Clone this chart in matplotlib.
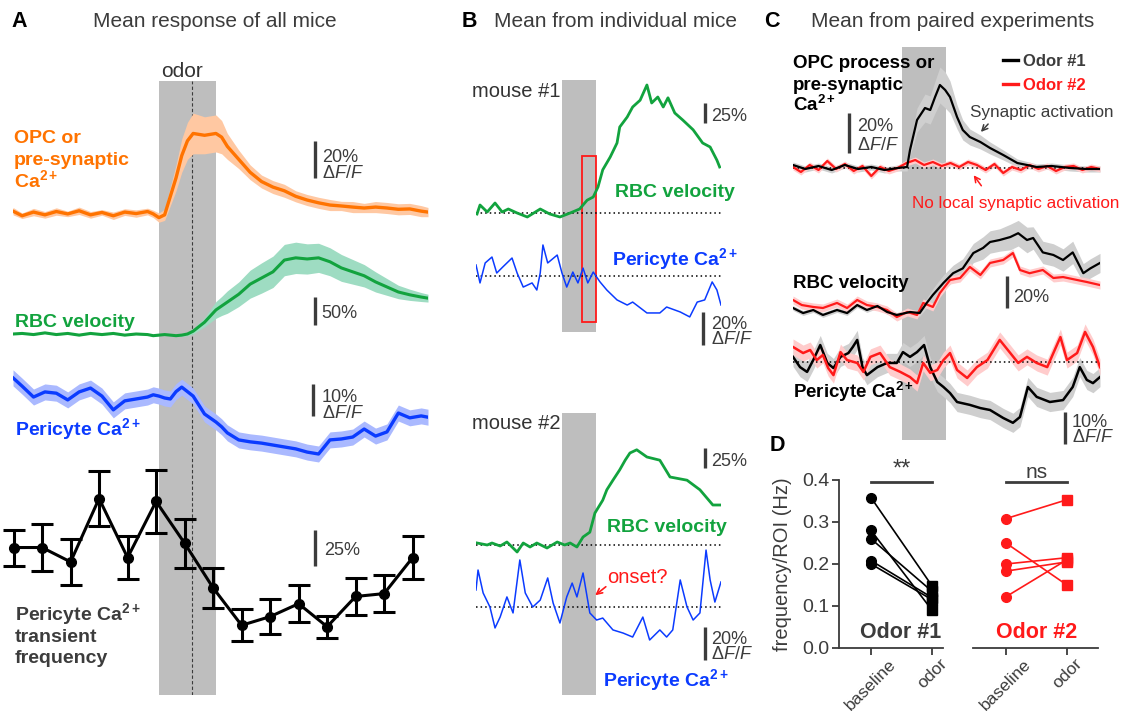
import matplotlib
matplotlib.use('Agg')
import matplotlib.pyplot as plt
from matplotlib.patches import Rectangle
from matplotlib.lines import Line2D
import numpy as np

plt.rcParams['font.family'] = ['Liberation Sans', 'DejaVu Sans']
plt.rcParams['mathtext.fontset'] = 'custom'
plt.rcParams['mathtext.rm'] = 'Liberation Sans'
plt.rcParams['mathtext.it'] = 'Liberation Sans:italic'
plt.rcParams['mathtext.bf'] = 'Liberation Sans:bold'

W, H = 1124, 711

ORANGE = '#ff7300'
ORANGE_BAND = '#ffc8a2'
GREEN = '#12a33e'
GREEN_BAND = '#9edcc2'
BLUE = '#0b3bff'
BLUE_BAND = '#aab9ff'
RED = '#ff1a1a'
RED_BAND = '#ffcccc'
GRAY_BAND = '#cfcfcf'
BOX = '#bebebe'
DARK = '#3c3c3c'

# ---------------- panel A: mean of all mice (time in s, odor 0-5 s) ----------------
t_a = [-12.8, -12, -11, -10, -9, -8, -7, -6, -5, -4, -3, -2, -1, -0.5,
       0, 0.5, 1, 1.5, 2, 2.5, 3, 4, 5, 5.5,
       6, 7, 8, 9, 10, 11, 12, 13, 14, 15, 16, 17, 18, 19, 20, 21, 22, 23, 23.6]
opc_a = [1.0, -1.5, 0.5, -1.0, 0.8, -0.5, 1.2, -1.0, 0.3, -1.5, 0.5, -0.3, 0.8, -0.5,
         -2.5, -1.0, 9, 19, 31, 39, 43, 42, 43, 41,
         36, 29, 22, 17, 14, 12, 9, 7, 5.5, 4.3, 3.8, 3.2, 2.7, 3.2, 2.7, 2.0, 2.2, 1.0, 0.5]
opc_sem_a = [2, 1.5, 2, 1.8, 2, 1.5, 2, 1.8, 1.5, 2, 1.8, 2, 1.8, 2,
             2.5, 3, 5, 7, 9, 10, 11, 10, 10, 9,
             7, 5, 4, 3.5, 3.5, 3.5, 3, 3, 3, 3, 2.5, 3, 2.5, 3, 3, 3, 3, 3, 2.5]
vel_a = [0, 1, -1, 2, -1, 1, -2, 1, -1, 1, -2, 0, -1, -3,
         -2, -1, -2, -3, -2, 0, 5, 21, 43, 50,
         57, 71, 89, 100, 111, 132, 136, 134, 136, 129, 118, 111, 104, 93, 84, 75, 70, 66, 64]
vel_sem_a = [1, 1, 1, 1, 1, 1, 1, 1, 1, 1, 1, 1, 1, 1,
             1, 1, 1, 1.5, 2, 3, 5, 8, 15, 17,
             20, 22, 25, 27, 28, 28, 28, 27, 26, 25, 24, 22, 20, 18, 15, 12, 10, 8, 7]
peri_a = [3.8, 1.2, -2.2, -0.6, -1.0, -3.1, -0.6, 0.6, -1.9, -6.2, -3.4, -2.8, -2.2, -1.5,
          -1.9, -2.5, -2.8, -0.5, 0.9, -0.5, -1.9, -7.5, -10, -11.5,
          -13.4, -15.6, -16.2, -16.6, -17.2, -17.8, -18.4, -19.4, -20, -15.6, -15.3, -14.7,
          -12.2, -14.4, -13.1, -7.2, -8.7, -8.1, -8.5]
peri_sem_a = 2.5
freq_t = [-12.75, -10.25, -7.75, -5.25, -2.75, -0.25, 2.25, 4.75, 7.25, 9.75,
          12.25, 14.75, 17.25, 19.75, 22.25]
freq_a = [92, 92, 82, 126, 85, 124, 95, 64, 38, 44, 53, 37, 58, 60, 85]
freq_err_a = [12.5, 16.4, 16, 19, 15, 22, 17, 14, 11, 12, 13, 7.5, 12.7, 13, 15]

# ---------------- panel B: individual mice ----------------
b1_vel_t = [-12.5, -12.06, -11.0, -9.85, -8.8, -7.9, -6.6, -5.1, -3.2, -1.8,
            -0.3, 1.2, 2.6, 3.7, 4.6, 5.3, 6.0, 7.1, 8.1, 8.5,
            9.6, 10.4, 11.5, 12.5, 13.2, 14.1, 14.9, 15.6, 16.6, 17.8,
            19.3, 20.7, 21.8, 22.8, 23.2]
b1_vel = [-1.25, 10, 1.25, 12.5, 1.25, 5, 0, -5, 5, -1.25,
          -5, 0, 5, 16, 20, 32.5, 54, 70, 87.5, 107.5,
          120, 132.5, 141, 160, 137.5, 145, 132.5, 144, 125, 116,
          104, 87.5, 82.5, 66, 57.5]
b1_ca_t = [-12.65, -12.06, -11.3, -10.3, -9.6, -8.7, -7.35, -6.6, -5.7, -4.4,
           -3.7, -3.2, -2.8, -2.1, -0.7, 0.0, 0.7, 1.6, 2.35, 3.1,
           3.8, 4.6, 5.6, 6.6, 8.1, 9.6, 10.4, 12.5, 14.4, 15.4,
           17.4, 18.8, 19.9, 21.0, 22.1, 22.8, 23.4]
b1_ca = [6.7, -4.2, 7.9, 11.5, 1.8, 5.5, 10.9, 1.8, -6.7, -4.2,
         -8.5, 1.8, 18.8, 7.9, 12.7, 1.8, -6.7, 2.4, -4.2, 4.8,
         -4.2, 2.4, -3.6, -8.5, -14.5, -17.6, -15.8, -22.4, -22.4, -18.8,
         -21.8, -24.8, -15.8, -14.5, -3.6, -8.5, -17.6]
b2_vel_t = [-12.5, -11.0, -10.3, -9.1, -8.1, -6.6, -5.7, -4.7, -3.7, -2.2,
            -0.7, 0.4, 1.2, 2.2, 3.1, 4.1, 4.85, 6.0, 6.6, 7.5,
            8.5, 9.3, 10.0, 11.0, 12.5, 14.4, 15.9, 18.4, 20.3, 22.2, 23.2]
b2_vel = [2.5, 0, 2.5, -1.25, 3.75, -8.75, 2.5, -2.5, 2.5, -3.75,
          3.75, 0, 2.5, -2.5, 10, 16, 40, 56, 69, 81,
          94, 106, 115, 119, 110, 106, 85, 81, 69, 50, 50]
b2_ca_t = [-12.65, -12.35, -11.6, -10.6, -9.85, -9.1, -8.1, -7.2, -6.2, -5.4,
           -4.3, -3.2, -2.1, -1.3, -0.3, 0.7, 1.5, 2.2, 3.1, 4.1,
           5.1, 6.0, 7.5, 9.0, 10.4, 11.9, 12.9, 14.4, 15.4, 16.3,
           17.4, 18.4, 19.3, 20.3, 21.2, 21.8, 22.5, 23.4]
b2_ca = [10.3, 22.4, 8.5, 0, -12.7, -6.1, 6.1, -3.6, 28.5, 8.5,
         0, 4.2, 17.6, 2.4, -9.7, 6.1, 14.5, 6.1, 20.6, -3.6,
         -7.9, -6.7, -13.9, -15.8, -18.2, -6.1, -20, -13.9, -18.2, -13.9,
         16.4, 0, -7.9, -3.6, 34.5, 16.4, 3, 15.2]

# ---------------- panel C: paired experiments (odor #1 black, odor #2 red) ----------------
c_opc1_t = [-12.4, -11, -9.5, -8, -6.5, -5, -3.5, -2, -0.5,
            0.57, 0.9, 1.7, 2.6, 3.2, 3.75, 4.3, 4.9, 5.45, 6.25, 6.9,
            7.7, 8.9, 10, 11.5, 13.1, 15.3, 17, 19.1, 21, 22.5]
c_opc1 = [1.5, -0.5, 1, -1, 1.5, -0.5, 0.5, -1, 0,
          0.5, 9, 24, 30, 29, 35.5, 41.5, 39, 35.5, 25.5, 19,
          15.5, 13, 10, 6.5, 2.5, 0.5, 1, 0, -0.5, -0.5]
c_opc1_sem = [1.5, 1.5, 1.5, 1.5, 1.5, 1.5, 1.5, 1.5, 1.5,
              2, 3, 6, 7, 7, 8, 9, 9, 8, 6, 5,
              4, 3.5, 3, 2.5, 2, 1.5, 1.5, 1.5, 1.5, 1.5]
c_opc2_t = [-12.4, -11.5, -10.5, -9.5, -8.5, -7.5, -6.5, -5.5, -4.5, -3.5,
            -2.5, -1.5, -0.5, 0.5, 1.5, 2.5, 3.5, 4.5, 5.5, 6.5,
            7.5, 8.5, 9.5, 10.5, 11.5, 12.5, 13.5, 14.5, 15.5, 16.5,
            17.5, 18.5, 19.5, 20.5, 21.5, 22.5]
c_opc2 = [0.5, -2, 1.5, -1, 3.5, -0.5, 2, -1.5, 1, -4,
          0.5, -1.5, 0, 2.5, 4, 1.5, 3, 1, 2.5, 0.5,
          3, 1.5, -1, 2, -2.5, 0.5, -1, 1.5, -0.5, 1,
          -1.5, 0.5, 1, -1, 0.5, -0.5]
c_opc2_sem = 1.5
c_vel1_t = [-12.4, -11.25, -10.1, -9.0, -7.4, -6.25, -5.1, -4.0, -2.8, -1.7,
            -0.6, 0.9, 2.0, 2.8, 3.5, 4.7, 5.8, 6.9, 8.1, 9.2,
            10.0, 11.1, 12.3, 13.2, 14.2, 14.9, 16.0, 17.2, 18.3, 19.4,
            20.6, 21.4, 22.5]
c_vel1 = [1.25, -1.9, 0, -3.1, 0, -1.9, 3.1, 0, 2.5, -1.25,
          -3.1, -1.25, -1.9, 4.4, 9.4, 16.9, 23, 26, 35.6, 38.75,
          42.5, 43.75, 45.6, 48, 43.75, 45, 36, 34.4, 31.25, 36,
          23, 26, 29.4]
c_vel1_sem = [1.5, 1.5, 1.5, 1.5, 1.5, 1.5, 1.5, 1.5, 1.5, 1.5,
              1.5, 1.5, 2, 3, 4, 5, 5, 6, 6, 7,
              7, 7, 8, 8, 8, 7, 7, 7, 7, 7,
              6, 6, 6]
c_vel2_t = [-12.4, -11.4, -10.1, -9.0, -7.4, -6.25, -5.1, -4.0, -2.8, -1.7,
            -0.6, 0.6, 1.7, 2.4, 3.5, 4.3, 5.45, 6.6, 7.7, 8.9,
            10.0, 11.5, 12.6, 13.4, 14.5, 16.0, 17.2, 18.3, 19.9, 21.0, 22.5]
c_vel2 = [6.25, 3.1, 1.9, 1.25, 4.4, 1.25, 6.25, 3.1, 1.9, 0,
          -4.4, -1.25, -3.1, 4.4, 1.9, 10.6, 18.75, 20, 26.9, 21.9,
          29.4, 31.25, 35.6, 25, 23, 25, 20, 20.6, 18.75, 17.5, 15.6]
c_vel2_sem = 2.5
c_ca1_t = [-12.4, -11.6, -10.8, -10.1, -9.3, -8.5, -7.8, -7.0, -6.1, -5.6,
           -5.1, -4.5, -4.0, -2.8, -1.7, -0.6, 0.1, 0.9, 1.7, 2.5,
           3.2, 4.0, 4.7, 5.45, 6.25, 7.7, 8.9, 10.0, 11.5, 12.6,
           13.4, 14.3, 15.3, 16.8, 18.3, 19.4, 20.2, 21.0, 21.7, 22.5]
c_ca1 = [1.6, -1.6, -3.1, 0.6, 5.3, -0.3, -1.9, 1.6, 2.8, 4.7,
         6.9, -1.6, -4.1, -1.6, -0.3, -0.3, 3.1, 1.6, 3.1, 5.3,
         -1.6, -6.25, -7.8, -9.7, -12.5, -13.4, -14.4, -15, -17.5, -19,
         -17.2, -7.8, -10.9, -12.5, -11.9, -7.8, -1.6, -5.6, -6.6, -4.7]
c_ca1_sem = 3.0
c_ca2_t = [-12.4, -11.25, -10.45, -9.7, -9.0, -8.4, -7.8, -7.0, -6.25, -5.1,
           -4.4, -3.6, -2.5, -1.4, -0.2, 0.9, 1.7, 2.4, 3.2, 4.0,
           4.7, 5.45, 6.25, 7.4, 8.5, 9.7, 11.1, 12.3, 13.2, 14.2,
           15.3, 16.5, 17.2, 18.0, 18.75, 19.9, 20.8, 21.7, 22.5]
c_ca2 = [4.7, 2.8, 3.75, 0.6, 2.2, -1.9, -4.1, 3.1, 0.6, -0.3,
         -3.1, 1.6, 2.8, -1.6, -3.1, -4.7, -6.6, -0.3, -3.4, -2.5,
         0.6, 2.8, -2.5, -5, -1.6, 0.6, 6.9, 2.8, -0.3, 1.6,
         -0.3, -1.6, 2.8, 7.8, 0.6, 2.8, 9.4, 4.7, -1.6]
c_ca2_sem = 2.5

# ---------------- panel D: transient frequency per ROI (Hz) ----------------
d_labels = ['baseline', 'odor']
d_base_1 = [0.358, 0.280, 0.260, 0.208, 0.200]
d_odor_1 = [0.148, 0.090, 0.135, 0.120, 0.115]
d_base_2 = [0.308, 0.250, 0.200, 0.183, 0.122]
d_odor_2 = [0.353, 0.150, 0.215, 0.205, 0.210]

ODOR_ON, ODOR_OFF = 0, 5

fig = plt.figure(figsize=(W / 100, H / 100), dpi=100)


def px_axes(x0, x1, y0, y1):
    ax = fig.add_axes([x0 / W, 1 - y1 / H, (x1 - x0) / W, (y1 - y0) / H])
    ax.set_facecolor('none')
    ax.axis('off')
    return ax


def box_axes(xpx, tlim, ypx):
    ax = px_axes(xpx[0], xpx[1], ypx[0], ypx[1])
    ax.set_xlim(*tlim)
    ax.set_ylim(0, 1)
    ax.axvspan(ODOR_ON, ODOR_OFF, color=BOX, lw=0)
    return ax


def trace_axes(xpx, tlim, ref_px, ppu, ref_val=0.0):
    # y axis in data units, ref_val sits at pixel row ref_px, ppu = pixels per unit
    ax = px_axes(xpx[0], xpx[1], 0, H)
    ax.set_xlim(*tlim)
    ax.set_ylim(ref_val - (H - ref_px) / ppu, ref_val + ref_px / ppu)
    return ax


def band(ax, t, y, sem, color):
    y = np.asarray(y, float)
    sem = np.asarray(sem, float) * np.ones_like(y)
    ax.fill_between(t, y - sem, y + sem, color=color, lw=0)


def scale_bar(ax, t, y0, length):
    ax.plot([t, t], [y0, y0 + length], color=DARK, lw=2.4, solid_capstyle='butt')


def baseline_dots(ax):
    ax.axhline(0, color='k', lw=1.1, ls=(0, (1, 2)))


# ---- A ----
XA, TA = (13, 428), (-12.8, 23.6)
axA = box_axes(XA, TA, (81, 695))
axA.axvline(2.9, color=DARK, lw=0.8, ls=(0, (3, 2)))

a_opc = trace_axes(XA, TA, 213, 1.85)
band(a_opc, t_a, opc_a, opc_sem_a, ORANGE_BAND)
a_opc.plot(t_a, opc_a, color=ORANGE, lw=2.4)
scale_bar(a_opc, 13.7, 19, 20)

a_vel = trace_axes(XA, TA, 334, 0.56)
band(a_vel, t_a, vel_a, vel_sem_a, GREEN_BAND)
a_vel.plot(t_a, vel_a, color=GREEN, lw=2.2)
scale_bar(a_vel, 13.7, 16, 50)

a_ca = trace_axes(XA, TA, 390, 3.2)
band(a_ca, t_a, peri_a, peri_sem_a, BLUE_BAND)
a_ca.plot(t_a, peri_a, color=BLUE, lw=2.4)
scale_bar(a_ca, 13.5, -8, 10)

a_fr = trace_axes(XA, TA, 536, 1.44, ref_val=100)
a_fr.errorbar(freq_t, freq_a, yerr=freq_err_a, color='k', lw=2.2, marker='o', ms=7,
              capsize=8, capthick=2.2, elinewidth=2.2, clip_on=False)
scale_bar(a_fr, 13.7, 79, 25)

# ---- B ----
XB, TB = (476, 721), (-12.65, 23.4)
axB1 = box_axes(XB, TB, (80, 332))
axB1.add_patch(Rectangle((2.95, 0.04), 2.05, 0.66, fill=False, ec=RED, lw=1.3))
axB2 = box_axes(XB, TB, (413, 695))

b1v = trace_axes(XB, TB, 213, 0.8)
baseline_dots(b1v)
b1v.plot(b1_vel_t, b1_vel, color=GREEN, lw=2.0)
scale_bar(b1v, 21.05, 112.5, 25)

b1c = trace_axes(XB, TB, 276, 1.65)
baseline_dots(b1c)
b1c.plot(b1_ca_t, b1_ca, color=BLUE, lw=1.1)
scale_bar(b1c, 20.75, -42, 20)

b2v = trace_axes(XB, TB, 545, 0.8)
baseline_dots(b2v)
b2v.plot(b2_vel_t, b2_vel, color=GREEN, lw=2.0)
scale_bar(b2v, 21.05, 96, 25)

b2c = trace_axes(XB, TB, 607, 1.65)
baseline_dots(b2c)
b2c.plot(b2_ca_t, b2_ca, color=BLUE, lw=1.1)
scale_bar(b2c, 21.05, -32, 20)

# ---- C ----
XC, TC = (793, 1100), (-12.4, 22.5)
axC = box_axes(XC, TC, (47, 440))

c_opc = trace_axes(XC, TC, 168, 2.0)
baseline_dots(c_opc)
band(c_opc, c_opc1_t, c_opc1, c_opc1_sem, GRAY_BAND)
band(c_opc, c_opc2_t, c_opc2, c_opc2_sem, RED_BAND)
c_opc.plot(c_opc2_t, c_opc2, color=RED, lw=1.6)
c_opc.plot(c_opc1_t, c_opc1, color='k', lw=1.6)
scale_bar(c_opc, -6.0, 7.5, 20)

c_vel = trace_axes(XC, TC, 310, 1.6)
band(c_vel, c_vel1_t, c_vel1, c_vel1_sem, GRAY_BAND)
band(c_vel, c_vel2_t, c_vel2, c_vel2_sem, RED_BAND)
c_vel.plot(c_vel2_t, c_vel2, color=RED, lw=1.6)
c_vel.plot(c_vel1_t, c_vel1, color='k', lw=1.6)
scale_bar(c_vel, 11.9, 1.25, 20)

c_ca = trace_axes(XC, TC, 362, 3.2)
baseline_dots(c_ca)
band(c_ca, c_ca1_t, c_ca1, c_ca1_sem, GRAY_BAND)
band(c_ca, c_ca2_t, c_ca2, c_ca2_sem, RED_BAND)
c_ca.plot(c_ca1_t, c_ca1, color='k', lw=1.8)
c_ca.plot(c_ca2_t, c_ca2, color=RED, lw=1.8)
scale_bar(c_ca, 18.5, -25.6, 10)

# ---- D ----
def pair_axes(x0, x1, xlim, show_y):
    ax = fig.add_axes([x0 / W, 1 - 648 / H, (x1 - x0) / W, (648 - 480) / H])
    ax.set_xlim(*xlim)
    ax.set_ylim(0, 0.4)
    for s in ['top', 'right']:
        ax.spines[s].set_visible(False)
    for s in ['left', 'bottom']:
        ax.spines[s].set_linewidth(1.3)
        ax.spines[s].set_color(DARK)
    ax.tick_params(axis='both', length=5, width=1.3, color=DARK, labelsize=14,
                   labelcolor=DARK, pad=2)
    ax.set_xticks([0, 1])
    ax.set_xticklabels(d_labels, rotation=45, ha='center', fontsize=12.5, color=DARK)
    ax.tick_params(axis='x', pad=1)
    if show_y:
        ax.set_yticks([0, 0.1, 0.2, 0.3, 0.4])
        ax.set_yticklabels(['0.0', '0.1', '0.2', '0.3', '0.4'])
    else:
        ax.spines['left'].set_visible(False)
        ax.set_yticks([])
    ax.set_facecolor('none')
    return ax


d1 = pair_axes(839, 943, (-0.525, 1.18), True)
for b, o in zip(d_base_1, d_odor_1):
    d1.plot([0, 1], [b, o], color='k', lw=1.2, clip_on=False)
    d1.plot([0], [b], 'o', color='k', ms=7, clip_on=False)
    d1.plot([1], [o], 's', color='k', ms=7, clip_on=False)
d1.set_ylabel('frequency/ROI (Hz)', fontsize=14.5, color=DARK)
d1.yaxis.set_label_coords(-0.45, 0.5)
d1.plot([0, 1], [0.395, 0.395], color=DARK, lw=2, clip_on=False)
d1.text(0.5, 0.398, '**', ha='center', va='bottom', fontsize=17, color=DARK)
d1.text(0.49, 0.024, 'Odor #1', ha='center', va='baseline', fontsize=15.5,
        fontweight='bold', color=DARK)

d2 = pair_axes(973, 1098, (-0.54, 1.51), False)
for b, o in zip(d_base_2, d_odor_2):
    d2.plot([0, 1], [b, o], color=RED, lw=1.2, clip_on=False)
    d2.plot([0], [b], 'o', color=RED, ms=7, clip_on=False)
    d2.plot([1], [o], 's', color=RED, ms=7, clip_on=False)
d2.plot([0, 1], [0.395, 0.395], color=DARK, lw=2, clip_on=False)
d2.text(0.5, 0.404, 'ns', ha='center', va='baseline', fontsize=15, color=DARK)
d2.text(0.5, 0.024, 'Odor #2', ha='center', va='baseline', fontsize=15.5,
        fontweight='bold', color=RED)

# ---------------- overlay for labels (pixel coordinates, origin top-left) ----------------
ov = fig.add_axes([0, 0, 1, 1])
ov.set_xlim(0, W)
ov.set_ylim(H, 0)
ov.axis('off')
ov.set_facecolor('none')


def txt(x, y, s, size=14, color=DARK, bold=False, ha='left', va='baseline'):
    ov.text(x, y, s, fontsize=size, color=color, ha=ha, va=va,
            fontweight='bold' if bold else 'normal')


CA = 'Ca$^{\\mathbf{2+}}$'
DFF = '$\\Delta F/F$'

# panel letters and titles
for x, letter in [(11, 'A'), (462, 'B'), (764, 'C')]:
    txt(x, 27, letter, size=15.5, color='k', bold=True)
txt(770, 451, 'D', size=15.5, color='k', bold=True)
txt(215, 27, 'Mean response of all mice', size=15, ha='center')
txt(616, 27, 'Mean from individual mice', size=15, ha='center')
txt(953, 27, 'Mean from paired experiments', size=15, ha='center')

# A labels
txt(182, 77, 'odor', size=15, ha='center', color='#333333')
for y, s in [(143, 'OPC or'), (165, 'pre-synaptic'), (187, CA)]:
    txt(14, y, s, color=ORANGE, bold=True)
txt(15, 327, 'RBC velocity', color=GREEN, bold=True)
txt(15, 435, 'Pericyte ' + CA, color=BLUE, bold=True)
for y, s in [(620, 'Pericyte ' + CA), (642, 'transient'), (663, 'frequency')]:
    txt(15, y, s, color=DARK, bold=True)
txt(322, 162, '20%', size=13)
txt(322, 178, DFF, size=13)
txt(321, 318, '50%', size=13)
txt(322, 402, '10%', size=13)
txt(322, 418, DFF, size=13)
txt(324, 555, '25%', size=13)

# B labels
txt(472, 97, 'mouse #1', size=14.5, color='#333333')
txt(472, 429, 'mouse #2', size=14.5, color='#333333')
txt(615, 197, 'RBC velocity', color=GREEN, bold=True)
txt(612, 265, 'Pericyte ' + CA, color=BLUE, bold=True)
txt(607, 532, 'RBC velocity', color=GREEN, bold=True)
txt(603, 686, 'Pericyte ' + CA, color=BLUE, bold=True)
txt(711, 121, '25%', size=13)
txt(711, 466, '25%', size=13)
txt(711, 329, '20%', size=13)
txt(711, 344, DFF, size=13)
txt(711, 644, '20%', size=13)
txt(711, 659, DFF, size=13)
txt(607, 583, 'onset?', size=14.5, color=RED)
ov.annotate('', xy=(593, 597), xytext=(608, 585),
            arrowprops=dict(arrowstyle='->', color=RED, lw=1.2))

# C labels
for y, s in [(68, 'OPC process or'), (90, 'pre-synaptic'), (111, CA)]:
    txt(793, y, s, size=13.5, color='k', bold=True)
ov.add_line(Line2D([1003, 1018], [60, 60], color='k', lw=2.4))
ov.add_line(Line2D([1003, 1018], [84, 84], color=RED, lw=2.4))
txt(1023, 66, 'Odor #1', size=12, color=DARK, bold=True)
txt(1023, 90, 'Odor #2', size=12, color=RED, bold=True)
txt(857, 131, '20%', size=13)
txt(857, 150, DFF, size=13)
txt(970, 117, 'Synaptic activation', size=12.3, color=DARK)
ov.annotate('', xy=(979, 134), xytext=(990, 122),
            arrowprops=dict(arrowstyle='->', color=DARK, lw=1.1))
txt(912, 208, 'No local synaptic activation', size=12.3, color=RED)
ov.annotate('', xy=(972, 173), xytext=(983, 188),
            arrowprops=dict(arrowstyle='->', color=RED, lw=1.1))
txt(793, 288, 'RBC velocity', size=13.5, color='k', bold=True)
txt(793, 398, 'Pericyte ' + CA, size=13.5, color='k', bold=True)
txt(1013, 302, '20%', size=13)
txt(1072, 427, '10%', size=13)
txt(1072, 442, DFF, size=13)

fig.savefig('out.png', dpi=100)
